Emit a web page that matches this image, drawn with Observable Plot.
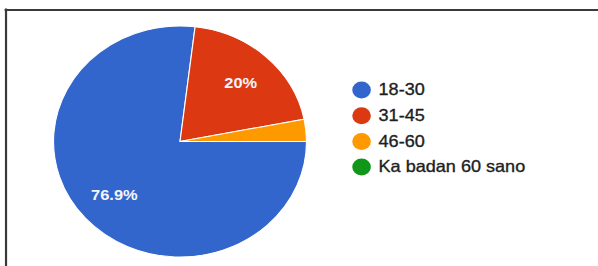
<!DOCTYPE html>
<html><head><meta charset="utf-8">
<script src="https://cdn.jsdelivr.net/npm/d3@7"></script>
<script src="https://cdn.jsdelivr.net/npm/@observablehq/plot@0.6"></script>
<style>html,body{margin:0;padding:0;background:#fff;overflow:hidden}</style>
</head><body><div id="chart"></div>
<script>
// ---- data ----
const categories = ["18-30", "31-45", "46-60", "Ka badan 60 sano"];
const shares = [76.9, 20, 3.1, 0];
const sliceLabels = ["76.9%", "20%", "", ""];
const colors = ["#3366cc", "#dc3912", "#ff9900", "#109618"];

// ---- layout ----
const W = 598, H = 266, SX = 1.095;   // the picture is stretched horizontally
const w = W / SX;
const cx = 164.4, cy = 141.5, R = 115.5;
const legendX = 329.7, legendY0 = 89.5, legendStep = 25.7;

const data = categories.map((c, i) => ({category: c, value: shares[i], label: sliceLabels[i], i}));
const arcs = d3.pie().value(d => d.value).sort(null)
  .startAngle(Math.PI / 2).endAngle(Math.PI / 2 + 2 * Math.PI)(data);
const mid = a => (a.startAngle + a.endAngle) / 2;

function pieMark(index, scales) {
  const sx = scales.x ?? (v => v), sy = scales.y ?? (v => v);
  const col = scales.color ?? ((c) => colors[categories.indexOf(c)]);
  const g = d3.create("svg:g").attr("transform", `translate(${sx(cx)},${sy(cy)})`);
  const arc = d3.arc().innerRadius(0).outerRadius(R);
  g.selectAll("path").data(arcs.filter(a => a.data.value > 0)).join("path")
    .attr("d", arc)
    .attr("fill", a => col(a.data.category))
    .attr("stroke", "#fff")
    .attr("stroke-width", 1);
  return g.node();
}

const font = "'Liberation Sans', Arial, sans-serif";
const svg = Plot.plot({
  width: w, height: H, margin: 0,
  x: {type: "identity", axis: null}, y: {type: "identity", axis: null},
  color: {domain: categories, range: colors},
  style: {fontFamily: font, background: "#fff"},
  marks: [
    Plot.ruleY([9.5], {x1: 4.2, x2: w, stroke: "#3a3a3a", strokeWidth: 2.2}),
    Plot.ruleX([5.0], {y1: 8.4, y2: H, stroke: "#3a3a3a", strokeWidth: 2}),
    pieMark,
    Plot.text(arcs.filter(a => a.data.label), {
      x: a => cx + 0.7 * R * Math.sin(mid(a)),
      y: a => cy - 0.7 * R * Math.cos(mid(a)),
      text: a => a.data.label,
      fill: "#f3f5fb", fontSize: 15, fontWeight: "bold"
    }),
    Plot.dot(data, {x: () => legendX, y: d => legendY0 + d.i * legendStep, r: 8.5, fill: "category"}),
    Plot.text(data, {
      x: () => legendX + 15.5, y: d => legendY0 + d.i * legendStep,
      text: "category", textAnchor: "start", fontSize: 16.5, fill: "#1e1e1e",
      stroke: "#1e1e1e", strokeWidth: 0.35
    })
  ]
});
svg.setAttribute("width", W);
svg.setAttribute("height", H);
svg.setAttribute("preserveAspectRatio", "none");
svg.style.width = W + "px";
svg.style.height = H + "px";
svg.style.maxWidth = "none";
document.getElementById("chart").appendChild(svg);
</script>
</body></html>
